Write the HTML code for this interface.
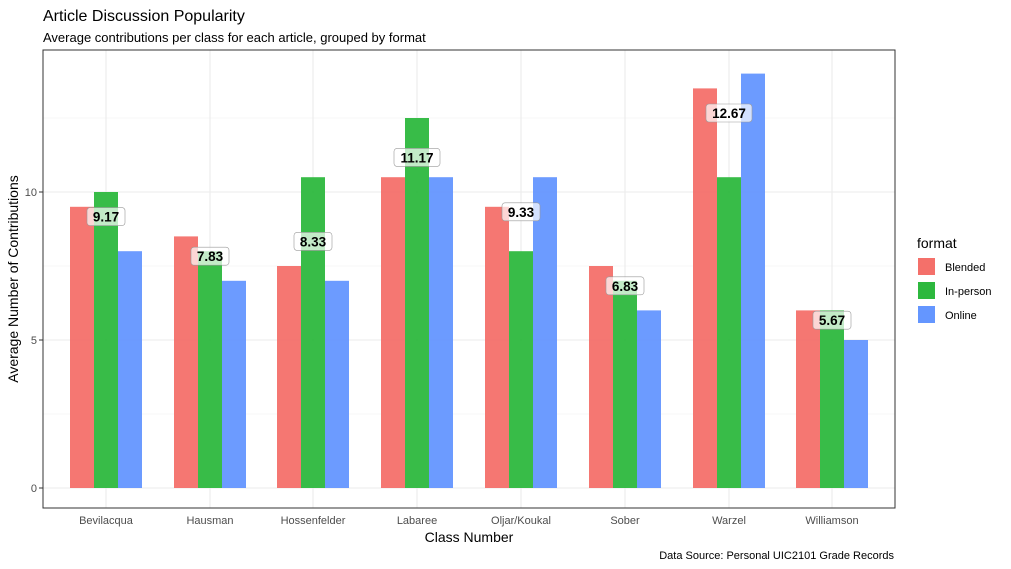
<!DOCTYPE html>
<html><head><meta charset="utf-8"><style>body{margin:0;background:#fff}svg{display:block;font-family:"Liberation Sans",sans-serif}</style></head><body>
<svg width="1011" height="569" xmlns="http://www.w3.org/2000/svg">
<text x="43" y="21" font-size="16" fill="#000">Article Discussion Popularity</text>
<text x="43" y="42" font-size="13" fill="#000">Average contributions per class for each article, grouped by format</text>
<rect x="43" y="50" width="852" height="458" fill="#fff"/>
<g stroke="#f0f0f0" stroke-width="0.6">
<line x1="43" x2="895" y1="414" y2="414"/><line x1="43" x2="895" y1="266" y2="266"/><line x1="43" x2="895" y1="118" y2="118"/>
</g>
<g stroke="#ebebeb" stroke-width="1.1">
<line x1="43" x2="895" y1="488" y2="488"/><line x1="43" x2="895" y1="340" y2="340"/><line x1="43" x2="895" y1="192" y2="192"/>
<line x1="106" x2="106" y1="50" y2="508"/><line x1="210" x2="210" y1="50" y2="508"/><line x1="313" x2="313" y1="50" y2="508"/><line x1="417" x2="417" y1="50" y2="508"/><line x1="521" x2="521" y1="50" y2="508"/><line x1="625" x2="625" y1="50" y2="508"/><line x1="729" x2="729" y1="50" y2="508"/><line x1="832" x2="832" y1="50" y2="508"/>
</g>
<g fill-opacity="0.95">
<g fill="#F4706A">
<rect x="70" y="206.8" width="24" height="281.2"/>
<rect x="174" y="236.4" width="24" height="251.6"/>
<rect x="277" y="266" width="24" height="222"/>
<rect x="381" y="177.2" width="24" height="310.8"/>
<rect x="485" y="206.8" width="24" height="281.2"/>
<rect x="589" y="266" width="24" height="222"/>
<rect x="693" y="88.4" width="24" height="399.6"/>
<rect x="796" y="310.4" width="24" height="177.6"/>
</g>
<g fill="#2DB83E">
<rect x="94" y="192" width="24" height="296"/>
<rect x="198" y="251.2" width="24" height="236.8"/>
<rect x="301" y="177.2" width="24" height="310.8"/>
<rect x="405" y="118" width="24" height="370"/>
<rect x="509" y="251.2" width="24" height="236.8"/>
<rect x="613" y="280.8" width="24" height="207.2"/>
<rect x="717" y="177.2" width="24" height="310.8"/>
<rect x="820" y="310.4" width="24" height="177.6"/>
</g>
<g fill="#6496FF">
<rect x="118" y="251.2" width="24" height="236.8"/>
<rect x="222" y="280.8" width="24" height="207.2"/>
<rect x="325" y="280.8" width="24" height="207.2"/>
<rect x="429" y="177.2" width="24" height="310.8"/>
<rect x="533" y="177.2" width="24" height="310.8"/>
<rect x="637" y="310.4" width="24" height="177.6"/>
<rect x="741" y="73.6" width="24" height="414.4"/>
<rect x="844" y="340" width="24" height="148"/>
</g>
</g>
<rect x="43" y="50" width="852" height="458" fill="none" stroke="#333" stroke-width="1"/>
<g font-size="11" fill="#4d4d4d" text-anchor="end">
<text x="37" y="492">0</text><text x="37" y="344">5</text><text x="37" y="196">10</text>
</g>
<g stroke="#333"><line x1="39" x2="43" y1="488" y2="488"/><line x1="39" x2="43" y1="340" y2="340"/><line x1="39" x2="43" y1="192" y2="192"/></g>
<g font-size="11" fill="#4d4d4d" text-anchor="middle">
<text x="106" y="524">Bevilacqua</text><text x="210" y="524">Hausman</text><text x="313" y="524">Hossenfelder</text><text x="417" y="524">Labaree</text><text x="521" y="524">Oljar/Koukal</text><text x="625" y="524">Sober</text><text x="729" y="524">Warzel</text><text x="832" y="524">Williamson</text>
</g>
<text x="469" y="542" font-size="14" text-anchor="middle">Class Number</text>
<text transform="translate(18,279) rotate(-90)" font-size="14" text-anchor="middle">Average Number of Contributions</text>
<text x="894" y="559" font-size="11" text-anchor="end">Data Source: Personal UIC2101 Grade Records</text>
<text x="917" y="248" font-size="14">format</text>
<rect x="918" y="258" width="17" height="17" fill="#F4706A"/><text x="945" y="271" font-size="11">Blended</text>
<rect x="918" y="282" width="17" height="17" fill="#2DB83E"/><text x="945" y="295" font-size="11">In-person</text>
<rect x="918" y="306" width="17" height="17" fill="#6496FF"/><text x="945" y="319" font-size="11">Online</text>
<g fill="#fff" fill-opacity="0.7" stroke="#999" stroke-width="0.6">
<rect x="87" y="207.6" width="38" height="18" rx="3"/>
<rect x="191" y="247.2" width="38" height="18" rx="3"/>
<rect x="294" y="232.4" width="38" height="18" rx="3"/>
<rect x="394" y="148.4" width="46" height="18" rx="3"/>
<rect x="502" y="202.8" width="38" height="18" rx="3"/>
<rect x="606" y="276.8" width="38" height="18" rx="3"/>
<rect x="706" y="104" width="46" height="18" rx="3"/>
<rect x="813" y="311.2" width="38" height="18" rx="3"/>
</g>
<g font-size="13.5" font-weight="bold" text-anchor="middle">
<text x="106" y="221.6">9.17</text>
<text x="210" y="261.2">7.83</text>
<text x="313" y="246.4">8.33</text>
<text x="417" y="162.4">11.17</text>
<text x="521" y="216.8">9.33</text>
<text x="625" y="290.8">6.83</text>
<text x="729" y="118">12.67</text>
<text x="832" y="325.2">5.67</text>
</g>
</svg>
</body></html>
